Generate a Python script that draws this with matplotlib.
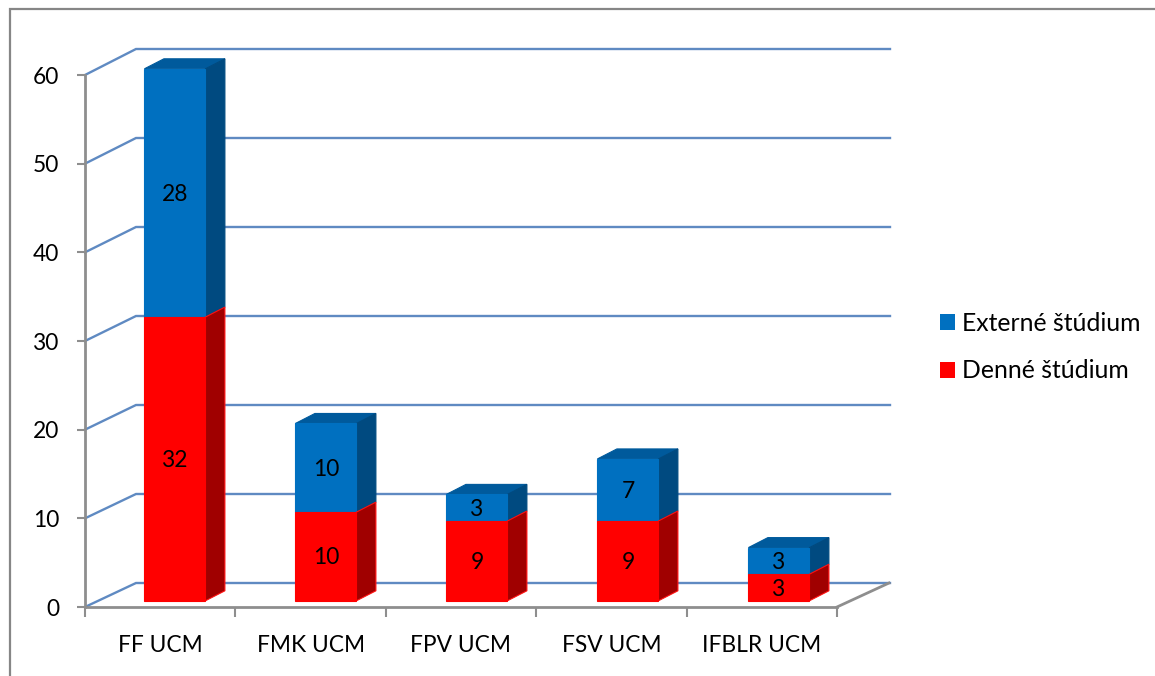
import matplotlib
matplotlib.use("Agg")
import matplotlib.pyplot as plt
from matplotlib.patches import Polygon, Patch
from matplotlib.lines import Line2D

categories = ["FF UCM", "FMK UCM", "FPV UCM", "FSV UCM", "IFBLR UCM"]
denne = [32, 10, 9, 9, 3]
externe = [28, 10, 3, 7, 3]
label_denne = "Denné štúdium"
label_externe = "Externé štúdium"
yticks = [0, 10, 20, 30, 40, 50, 60]

W, H = 1155, 676
plt.rcParams['font.family'] = ['Lato', 'DejaVu Sans']
fig = plt.figure(figsize=(W / 100, H / 100), dpi=100, facecolor='white')
L, R, T, B = 85, 837, 75, 607
ax = fig.add_axes([L / W, 1 - B / H, (R - L) / W, (B - T) / H])
ax.set_xlim(0, 5)
ax.set_ylim(0, 60)
ax.patch.set_visible(False)

ux = (R - L) / 5      # px per category
uy = (B - T) / 60     # px per value
FS = 16.4


def P(x, y, dx=0.0, dy=0.0):
    """data point shifted by an oblique depth given in pixels"""
    return (x + dx / ux, y + dy / uy)


GRID = '#5F8AC2'
AX = '#8E8E8E'
# wall and floor lines
for v in yticks:
    back = 24 + v / 30
    ax.plot(*zip(P(0, v), P(0, v, 51, back), P(0, v, 805, back)),
            color=GRID, lw=1.7, clip_on=False, zorder=1, solid_joinstyle='miter')
ax.plot(*zip(P(5, 0), P(5, 0, 52, 24)), color=AX, lw=2, clip_on=False, zorder=1.5)

# spines and ticks
for s in ('top', 'right'):
    ax.spines[s].set_visible(False)
for s in ('left', 'bottom'):
    ax.spines[s].set_color(AX)
    ax.spines[s].set_linewidth(2)
    ax.spines[s].set_zorder(1.2)
ax.set_yticks(yticks)
ax.set_xticks(range(6))
ax.set_xticklabels([])
ax.set_xticks([i + 0.5 for i in range(5)], categories, minor=True)
ax.tick_params(axis='x', which='major', length=7, width=1.5, color=AX, direction='out')
ax.tick_params(axis='x', which='minor', length=0, pad=20, labelsize=FS, labelcolor='black')
ax.tick_params(axis='y', length=6, width=1.5, color=AX, direction='out', pad=12.5, labelsize=FS, labelcolor='black')

BW = 61 / ux
D = (19.5, 10)   # bar depth in px
LIFT = 6.2     # bars stand a little behind the front edge


def box(xc, off, y0, y1, front, side, top, edge, z, draw_top=True):
    x0 = xc - BW / 2 + off / ux
    x1 = xc + BW / 2 + off / ux
    f = [P(x0, y0, 0, LIFT), P(x1, y0, 0, LIFT), P(x1, y1, 0, LIFT), P(x0, y1, 0, LIFT)]
    s = [P(x1, y0, 0, LIFT), P(x1, y0, D[0], D[1] + LIFT), P(x1, y1, D[0], D[1] + LIFT), P(x1, y1, 0, LIFT)]
    t = [P(x0, y1, 0, LIFT), P(x1, y1, 0, LIFT), P(x1, y1, D[0], D[1] + LIFT), P(x0, y1, D[0], D[1] + LIFT)]
    faces = [(s, side, edge), (f, front, front)]
    if draw_top:
        faces.insert(0, (t, top, top))
    for pts, c, ec in faces:
        ax.add_patch(Polygon(pts, closed=True, facecolor=c, edgecolor=ec, lw=0.8,
                             clip_on=False, zorder=z, joinstyle='miter'))


for i, (d, e) in enumerate(zip(denne, externe)):
    xc = i + 0.5
    off = 14.7 + 0.6 * i
    box(xc, off, d, d + e, '#0070C0', '#004A80', '#005A9C', '#004A80', 3)
    box(xc, off, 0, d, '#FF0000', '#A00000', '#C00000', '#FF1010', 4, draw_top=False)
    ax.text(*P(xc, d / 2, off, LIFT - 1.5), str(d), ha='center', va='center',
            fontsize=FS, color='black', zorder=6)
    ax.text(*P(xc, d + e / 2, off, LIFT - 1.5), str(e), ha='center', va='center',
            fontsize=FS, color='black', zorder=6)

# legend
handles = [Patch(facecolor='#0070C0', edgecolor='none', label=label_externe),
           Patch(facecolor='#FF0000', edgecolor='none', label=label_denne)]
fig.legend(handles=handles, loc='center left', bbox_to_anchor=(940 / W, 1 - 347 / H),
           frameon=False, fontsize=17.8, handlelength=0.62, handleheight=0.62,
           handletextpad=0.27, labelspacing=1.0, borderpad=0, borderaxespad=0)

# outer chart frame, cropped by the image
fig.add_artist(Line2D([10 / W, 10 / W, 1], [0, 1 - 9 / H, 1 - 9 / H], color='#868686', lw=1.6,
                      transform=fig.transFigure, solid_joinstyle='miter'))

fig.savefig('out.png', dpi=100)
